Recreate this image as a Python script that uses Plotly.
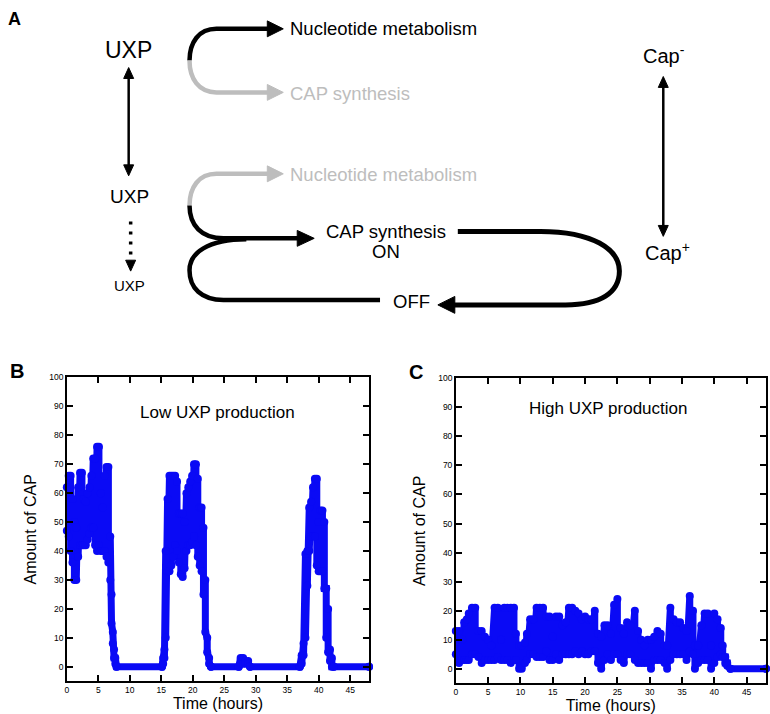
import plotly.graph_objects as go

# Panel B: low UXP production. The simulated trace jitters quickly, so it is
# kept as the upper and lower edge of the blue band.
hours_b = [0.0, 0.3, 0.6, 0.9, 1.2, 1.5, 1.8, 2.1, 2.4, 2.7, 3.0, 3.3, 3.6, 3.9,
           4.2, 4.5, 4.8, 5.1, 5.4, 5.7, 6.0, 6.3, 6.6, 6.9, 7.1, 7.3, 7.5, 7.7, 7.9,
           15.1, 15.3, 15.5, 15.7, 16.0, 16.3, 16.6, 16.9, 17.2, 17.5, 17.8, 18.1,
           18.4, 18.7, 19.0, 19.3, 19.6, 19.9, 20.2, 20.5, 20.8, 21.1, 21.4, 21.7,
           22.0, 22.3, 22.6, 22.9,
           27.3, 27.6, 28.0, 28.4, 28.8, 29.1,
           37.0, 37.3, 37.6, 37.9, 38.2, 38.5, 38.8, 39.1, 39.4, 39.7, 40.0, 40.3,
           40.6, 40.9, 41.2, 41.5, 41.8, 42.1, 42.4, 48.0]
upper_b = [62, 66, 66, 58, 50, 48, 62, 67, 67, 58, 57, 60, 62, 66,
           72, 72, 76, 76, 60, 55, 66, 69, 69, 45, 25, 12, 6, 3, 0,
           0, 3, 6, 40, 58, 66, 66, 66, 66, 64, 53, 53,
           53, 50, 60, 62, 64, 66, 70, 70, 65, 55, 55, 48,
           30, 10, 3, 0,
           0, 3, 3, 2, 2, 0,
           0, 4, 8, 39, 40, 55, 57, 62, 65, 65, 50, 54,
           54, 50, 27, 20, 6, 3, 0, 0]
lower_b = [47, 45, 40, 36, 30, 30, 38, 42, 42, 42, 42, 44, 46, 48,
           48, 42, 40, 42, 40, 40, 40, 38, 36, 30, 15, 8, 3, 1, 0,
           0, 1, 3, 10, 33, 33, 35, 38, 42, 40, 36, 32,
           31, 34, 40, 42, 42, 43, 45, 42, 38, 35, 33, 25,
           12, 5, 1, 0,
           0, 1, 1, 1, 1, 0,
           0, 1, 4, 10, 28, 40, 45, 45, 45, 35, 33, 33,
           33, 27, 10, 5, 2, 0, 0, 0]

# Panel C: high UXP production
hours_c = [0, 0.5, 1.0, 1.3, 1.7, 2.0, 2.5, 3.0, 3.5, 4.0,
           4.5, 5.0, 5.5, 6.0, 6.5, 7.0, 7.5, 8.0, 8.5, 9.0,
           9.3, 9.8, 10.2, 10.7, 11.0, 11.5, 12.0, 12.5, 13.0, 13.5,
           14.0, 14.5, 15.0, 15.5, 16.0, 16.5, 17.0, 17.5, 18.0, 18.5,
           19.0, 19.5, 20.0, 20.5, 21.0, 21.5, 22.0, 22.5, 23.0, 23.5,
           24.0, 24.5, 25.0, 25.5, 26.0, 26.5, 27.0, 27.7, 28.2, 28.7,
           29.2, 29.7, 30.2, 30.7, 31.2, 31.7, 32.3, 32.7, 33.2, 33.7,
           34.2, 34.7, 35.2, 35.7, 36.2, 36.7, 37.0, 37.5, 38.0, 38.5,
           39.0, 39.5, 40.0, 40.5, 41.0, 41.3, 41.7, 42.0, 42.5, 48.0]
upper_c = [13, 13, 10, 16, 17, 19, 21, 21, 13, 13,
           11, 10, 8, 21, 21, 10, 21, 21, 21, 21,
           12, 8, 8, 9, 12, 17, 17, 21, 21, 21,
           18, 18, 11, 18, 18, 15, 16, 21, 21, 20,
           19, 17, 18, 17, 17, 20, 12, 11, 15, 15,
           12, 22, 24, 14, 12, 16, 15, 20, 13, 10,
           8, 10, 10, 11, 13, 12, 8, 8, 21, 17,
           16, 16, 14, 13, 25, 20, 8, 8, 15, 19,
           19, 8, 19, 17, 14, 8, 4, 2, 0, 0]
lower_c = [5, 2, 3, 3, 3, 3, 5, 5, 4, 2,
           3, 3, 3, 3, 4, 3, 3, 3, 2, 3,
           3, 0, 0, 2, 3, 5, 5, 4, 4, 4,
           6, 3, 3, 5, 3, 5, 5, 5, 5, 6,
           5, 6, 5, 5, 6, 6, 2, 0, 3, 5,
           3, 5, 5, 3, 2, 5, 5, 3, 2, 2,
           2, 2, 0, 3, 3, 3, 2, 0, 3, 5,
           5, 5, 5, 3, 6, 5, 0, 2, 3, 3,
           3, 0, 2, 4, 5, 4, 2, 1, 0, 0]

FONT = "Arial, Liberation Sans, Helvetica, sans-serif"
BLUE = "#0a0af5"
GREY = "#bdbdbd"


def band(hours, upper, lower):
    """Walk up and down between the two edges so the thick line fills the band."""
    xs, ys = [], []
    for t, hi, lo in zip(hours, upper, lower):
        xs += [t, t]
        ys += [hi, lo]
    return xs, ys


fig = go.Figure()

for hours, upper, lower, xa, ya in [(hours_b, upper_b, lower_b, "x", "y"),
                                    (hours_c, upper_c, lower_c, "x2", "y2")]:
    xs, ys = band(hours, upper, lower)
    fig.add_trace(go.Scatter(
        x=xs, y=ys, xaxis=xa, yaxis=ya, mode="lines+markers",
        line=dict(color=BLUE, width=7), marker=dict(color=BLUE, size=8),
        cliponaxis=False, showlegend=False, hoverinfo="skip"
    ))

axis_style = dict(
    showline=True, linecolor="black", linewidth=1.5, mirror="ticks",
    ticks="inside", ticklen=6, tickwidth=1.5, tickcolor="black",
    showgrid=False, zeroline=False,
    tickfont=dict(family=FONT, size=8.5, color="black"),
)
x_title = dict(text="Time (hours)", font=dict(family=FONT, size=16, color="black"),
               standoff=1)
y_title = dict(text="Amount of CAP", font=dict(family=FONT, size=16, color="black"),
               standoff=9)

fig.update_layout(
    width=770, height=714,
    margin=dict(l=0, r=0, t=0, b=0),
    paper_bgcolor="white", plot_bgcolor="rgba(0,0,0,0)",
    font=dict(family=FONT),
    xaxis=dict(domain=[65 / 770, 368 / 770], range=[0, 48], tick0=0, dtick=5,
               anchor="y", title=x_title, **axis_style),
    yaxis=dict(domain=[1 - 681 / 714, 1 - 375 / 714], range=[-5, 100], tick0=0,
               dtick=10, anchor="x", title=y_title, **axis_style),
    xaxis2=dict(domain=[455 / 770, 766 / 770], range=[0, 48], tick0=0, dtick=5,
                anchor="y2", title=x_title, **axis_style),
    yaxis2=dict(domain=[1 - 683 / 714, 1 - 376 / 714], range=[-5, 100], tick0=0,
                dtick=10, anchor="x2", title=y_title, **axis_style),
    # hidden pixel-sized canvas for the pathway sketch in panel A
    xaxis3=dict(domain=[0, 1], range=[0, 770], visible=False, anchor="y3",
                fixedrange=True),
    yaxis3=dict(domain=[0, 1], range=[714, 0], visible=False, anchor="x3",
                fixedrange=True),
)

# ---- panel A sketch -------------------------------------------------------
shapes = []


def stroke(path, color="black", width=4.5, dash=None):
    line = dict(color=color, width=width)
    if dash:
        line["dash"] = dash
    shapes.append(dict(type="path", path=path, xref="x3", yref="y3",
                       line=line, layer="above"))


def head(tx, ty, dx, dy, length, half, color="black"):
    # triangle with its tip at (tx, ty) pointing along (dx, dy)
    bx, by = tx - dx * length, ty - dy * length
    px, py = -dy * half, dx * half
    path = (f"M {tx},{ty} L {bx + px},{by + py} L {bx - px},{by - py} Z")
    shapes.append(dict(type="path", path=path, xref="x3", yref="y3",
                       fillcolor=color, line=dict(color=color, width=1),
                       layer="above"))


# upper fork: black to nucleotide metabolism, grey to CAP synthesis
stroke("M 188,56 C 188,38 197,24 215,24 L 268,24")
head(282, 24, 1, 0, 16, 8)
stroke("M 188,56 C 188,74 197,88 215,88 L 268,88", color=GREY)
head(282, 88, 1, 0, 16, 8, color=GREY)

# lower fork: grey to nucleotide metabolism, black to CAP synthesis
stroke("M 188,202 C 188,184 197,170 215,170 L 268,170", color=GREY)
head(282, 170, 1, 0, 16, 8, color=GREY)
stroke("M 188,202 C 188,222 200,235 222,235 L 298,235")
head(313, 235, 1, 0, 17, 8)
stroke("M 245,236 C 206,236 188,250 188,267 C 188,285 200,297 222,297 L 379,297")

# feedback loop from CAP synthesis ON to OFF
stroke("M 457,228 L 540,228 C 592,228 619,246 619,268 C 619,290 600,302 565,302 L 450,302",
       width=5)
head(437, 302, -1, 0, 17, 8.5)

# double arrows and the dotted arrow
stroke("M 127,72 L 127,163", width=2.5)
head(127, 63, 0, -1, 11, 5)
head(127, 172, 0, 1, 11, 5)
stroke("M 663,81 L 663,224", width=2.5)
head(663, 72, 0, -1, 11, 5)
head(663, 233, 0, 1, 11, 5)
stroke("M 129,218 L 129,257", width=3.5, dash="3px,7px")
head(129, 268, 0, 1, 11, 5)

fig.update_layout(shapes=shapes)


def label(x, y, text, size, color="black", xanchor="center", bold=False):
    if bold:
        text = f"<b>{text}</b>"
    fig.add_annotation(x=x, y=y, xref="x3", yref="y3", text=text, showarrow=False,
                       xanchor=xanchor, yanchor="middle",
                       font=dict(family=FONT, size=size, color=color))


label(13, 14, "A", 18, bold=True)
label(15, 369, "B", 20, bold=True)
label(415, 370, "C", 20, bold=True)

label(127, 45, "UXP", 23)
label(128, 193, "UXP", 19)
label(128, 282, "UXP", 15)

label(287, 24, "Nucleotide metabolism", 18.5, xanchor="left")
label(287, 89, "CAP synthesis", 18.5, color=GREY, xanchor="left")
label(287, 171, "Nucleotide metabolism", 18.5, color=GREY, xanchor="left")
label(385, 228, "CAP synthesis", 18.5)
label(385, 248, "ON", 18.5)
label(411, 299, "OFF", 18.5)

label(664, 50, "Cap<sup>-</sup>", 20)
label(667, 248, "Cap<sup>+</sup>", 20)

# captions inside the time-course panels
fig.add_annotation(x=24, y=88, xref="x", yref="y", text="Low UXP production",
                   showarrow=False, font=dict(family=FONT, size=17, color="black"))
fig.add_annotation(x=23.6, y=89.5, xref="x2", yref="y2", text="High UXP production",
                   showarrow=False, font=dict(family=FONT, size=17, color="black"))

# the page's default body margin would push the fixed-size figure off the window
fig.write_html("out.html", config={"displayModeBar": False},
               post_script="document.body.style.margin = '0';")
